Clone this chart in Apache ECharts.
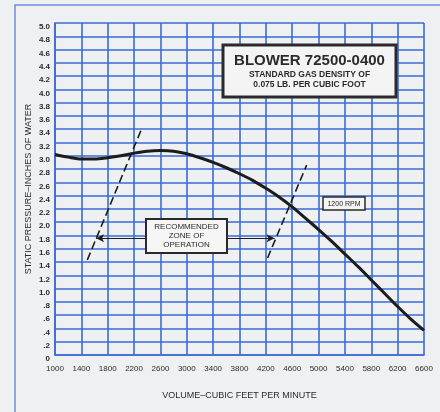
<!DOCTYPE html>
<html>
<head>
<meta charset="utf-8">
<script src="https://cdn.jsdelivr.net/npm/echarts@6/dist/echarts.min.js"></script>
<style>
  html, body { margin: 0; padding: 0; background: #eef0f2; }
  #chart { width: 440px; height: 412px; }
</style>
</head>
<body>
<div id="chart"></div>
<script>
// blower curve, 1200 rpm (cfm vs inches of water)
const volume = [1000, 1200, 1400, 1600, 1800, 2000, 2200, 2400, 2600, 2800, 3000, 3200, 3400, 3600,
  3800, 4000, 4200, 4400, 4600, 4800, 5000, 5200, 5400, 5600, 5800, 6000, 6200, 6400, 6600];
const pressure = [3.02, 2.98, 2.95, 2.95, 2.97, 3.00, 3.04, 3.07, 3.08, 3.07, 3.03, 2.97, 2.90, 2.82,
  2.73, 2.63, 2.51, 2.38, 2.23, 2.06, 1.89, 1.71, 1.52, 1.33, 1.13, 0.93, 0.73, 0.54, 0.37];
// recommended zone boundaries (dashed)
const zoneLeft = [[1490, 1.43], [2320, 3.42]];
const zoneRight = [[4226, 1.46], [4819, 2.86]];
const zoneArrow = [[1624, 1.76], [4332, 1.76]];
const xTicks = [1000, 6600, 400];
const yTicks = [0, 5, 0.2];

const X0 = xTicks[0]; // axis is drawn offset so ticks start at a multiple of the interval
const shift = pts => pts.map(p => [p[0] - X0, p[1]]);

const chart = echarts.init(document.getElementById('chart'));
const blue = '#3b6bd6';
const ink = '#2b2b2b';
const font = 'Liberation Sans';
const TOP = 100;

const option = {
  backgroundColor: '#eef0f2',
  animation: false,
  grid: { left: 55, top: 23, right: 16, bottom: 57 },
  xAxis: {
    type: 'value',
    min: 0,
    max: xTicks[1] - X0,
    interval: xTicks[2],
    name: 'VOLUME\u2013CUBIC FEET PER MINUTE',
    nameLocation: 'middle',
    nameGap: 36,
    nameTextStyle: { color: ink, fontFamily: font, fontSize: 9 },
    axisLine: { show: true, lineStyle: { color: blue, width: 1.6 } },
    axisTick: { show: false },
    axisLabel: {
      formatter: v => String(v + X0),
      color: ink, fontFamily: font, fontSize: 8, margin: 10
    },
    splitLine: { show: true, lineStyle: { color: blue, width: 1.6 } }
  },
  yAxis: {
    type: 'value',
    min: yTicks[0],
    max: yTicks[1],
    interval: yTicks[2],
    name: 'STATIC PRESSURE\u2013INCHES OF WATER',
    nameLocation: 'middle',
    nameRotate: 90,
    nameGap: 22,
    nameMoveOverlap: false,
    nameTextStyle: { color: ink, fontFamily: font, fontSize: 9 },
    axisLine: { show: true, lineStyle: { color: blue, width: 1.6 } },
    axisTick: { show: false },
    axisLabel: {
      formatter: v => {
        if (Math.abs(v) < 1e-9) return '0';
        if (v < 1) return '.' + Math.round(v * 10);
        return v.toFixed(1);
      },
      color: ink, fontFamily: font, fontSize: 8, fontWeight: 'bold', margin: 5,
      verticalAlign: 'top'
    },
    splitLine: { show: true, lineStyle: { color: blue, width: 1.6 } }
  },
  series: [
    {
      type: 'line',
      data: shift(volume.map((v, i) => [v, pressure[i]])),
      smooth: 0.3,
      symbol: 'none',
      lineStyle: { color: '#1c1c1c', width: 3 },
      z: 5
    },
    {
      type: 'line',
      data: shift(zoneLeft),
      symbol: 'none',
      lineStyle: { color: '#1c1c1c', width: 1.6, type: [8, 4] },
      z: 4
    },
    {
      type: 'line',
      data: shift(zoneRight),
      symbol: 'none',
      lineStyle: { color: '#1c1c1c', width: 1.6, type: [8, 4] },
      z: 4,
      markLine: {
        silent: true,
        symbol: ['arrow', 'arrow'],
        symbolSize: [6, 8],
        label: { show: false },
        lineStyle: { color: '#1c1c1c', width: 1.2, type: 'solid' },
        data: [[{ coord: shift(zoneArrow)[0] }, { coord: shift(zoneArrow)[1] }]]
      }
    }
  ],
  graphic: {
    elements: [
      // outer page frame
      {
        type: 'rect', shape: { x: 15, y: 5, width: 460, height: 440 }, silent: true, z: 0,
        style: { fill: null, stroke: '#6f8fdc', lineWidth: 1.5 }
      },
      // title box
      { type: 'rect', z: TOP, shape: { x: 223, y: 45, width: 173, height: 52 },
        style: { fill: '#f4f4f5', stroke: '#2a2a2a', lineWidth: 3 } },
      { type: 'text', z: TOP + 1, x: 309.5, y: 61, style: { text: 'BLOWER 72500-0400', fill: ink,
        font: 'bold 15px "Liberation Sans"', align: 'center', verticalAlign: 'middle' } },
      { type: 'text', z: TOP + 1, x: 309.5, y: 75, style: { text: 'STANDARD GAS DENSITY OF', fill: ink,
        font: 'bold 8.5px "Liberation Sans"', align: 'center', verticalAlign: 'middle' } },
      { type: 'text', z: TOP + 1, x: 309.5, y: 85, style: { text: '0.075 LB. PER CUBIC FOOT', fill: ink,
        font: 'bold 8.5px "Liberation Sans"', align: 'center', verticalAlign: 'middle' } },
      // recommended zone box
      { type: 'rect', z: TOP, shape: { x: 146, y: 219, width: 81, height: 34 },
        style: { fill: '#f6f6f7', stroke: '#2a2a2a', lineWidth: 2 } },
      { type: 'text', z: TOP + 1, x: 186.5, y: 236, style: { text: 'RECOMMENDED\nZONE OF\nOPERATION', fill: ink,
        font: '8px "Liberation Sans"', lineHeight: 9, align: 'center', verticalAlign: 'middle' } },
      // rpm tag
      { type: 'rect', z: TOP, shape: { x: 323, y: 197, width: 42, height: 13 },
        style: { fill: '#f4f4f5', stroke: '#2a2a2a', lineWidth: 1.5 } },
      { type: 'text', z: TOP + 1, x: 344, y: 204, style: { text: '1200 RPM', fill: ink,
        font: '7px "Liberation Sans"', align: 'center', verticalAlign: 'middle' } }
    ]
  }
};

chart.setOption(option);
</script>
</body>
</html>
